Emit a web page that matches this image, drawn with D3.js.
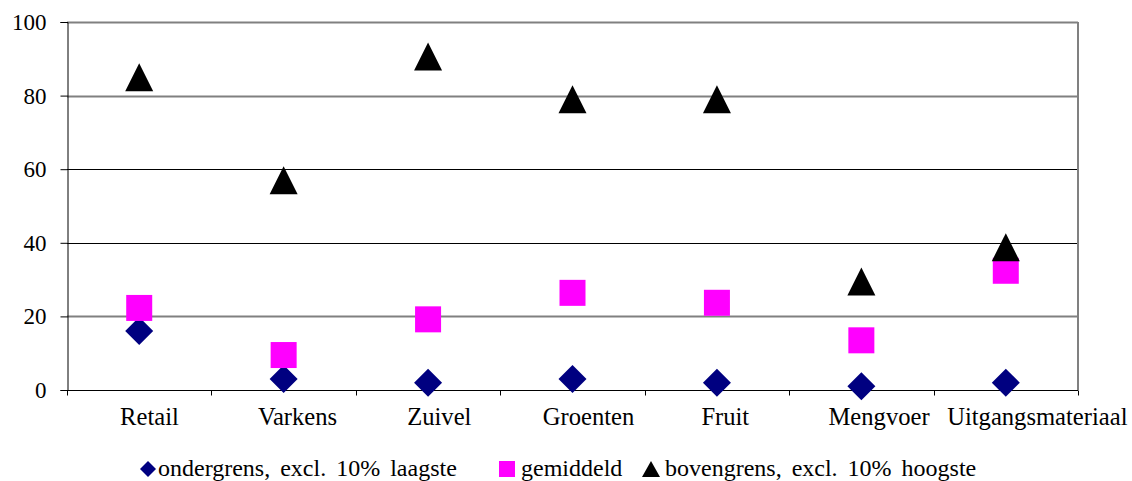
<!DOCTYPE html>
<html>
<head>
<meta charset="utf-8">
<script src="https://cdn.jsdelivr.net/npm/d3@7"></script>
<style>
  html, body { margin: 0; padding: 0; background: #fff; }
  svg { display: block; }
  svg text { font-family: "Liberation Serif", serif !important; fill: #000; }
</style>
</head>
<body>
<svg id="chart" width="1132" height="481"></svg>
<script>
// Categories and the three series per category
const categories = ["Retail", "Varkens", "Zuivel", "Groenten", "Fruit", "Mengvoer", "Uitgangsmateriaal"];
const ondergrens = [16, 3, 2, 3, 2, 1, 2];
const gemiddeld = [22.3, 9.5, 19.2, 26.4, 23.7, 13.5, 32.4];
const bovengrens = [85, 57, 90.6, 79, 79, 29.5, 38.8];
const yTicks = [0, 20, 40, 60, 80, 100];
const seriesNames = ["ondergrens, excl. 10% laagste", "gemiddeld", "bovengrens, excl. 10% hoogste"];

const svg = d3.select("#chart");
const plot = { left: 67, right: 1078, top: 22, bottom: 390 };

const x = d3.scaleBand().domain(categories).range([plot.left, plot.right]).padding(0);
const y = d3.scaleLinear().domain([0, 100]).range([plot.bottom, plot.top]);

// Horizontal gridlines
svg.append("g")
  .selectAll("line")
  .data(yTicks.filter(d => d > 0))
  .join("line")
  .attr("x1", plot.left).attr("x2", plot.right)
  .attr("y1", d => Math.round(y(d)) + 0.5).attr("y2", d => Math.round(y(d)) + 0.5)
  .attr("stroke", d => (d === 60 || d === 40) ? "#000" : "#808080")
  .attr("stroke-width", d => (d === 60 || d === 40) ? 1 : 2);

// Right border of plot area
svg.append("line")
  .attr("x1", plot.right).attr("x2", plot.right)
  .attr("y1", plot.top).attr("y2", plot.bottom)
  .attr("stroke", "#808080").attr("stroke-width", 2);

// Y axis
const yAxis = d3.axisLeft(y).tickValues(yTicks).tickSize(7).tickPadding(14);
const gy = svg.append("g").attr("transform", `translate(${plot.left + 0.5},0)`).call(yAxis);
gy.attr("font-family", null);
gy.select(".domain").attr("stroke", "#000");
gy.selectAll(".tick line").attr("stroke", "#000");
gy.selectAll(".tick text")
  .style("font-size", "23px").attr("fill", "#000").attr("dy", "0.33em");

// X axis line with ticks on category boundaries
const gx = svg.append("g").attr("transform", `translate(0,${plot.bottom + 0.5})`);
gx.append("line").attr("x1", plot.left).attr("x2", plot.right).attr("stroke", "#000");
const bounds = d3.range(categories.length + 1).map(i => plot.left + i * x.step());
gx.selectAll("line.tk").data(bounds).join("line").attr("class", "tk")
  .attr("x1", d => Math.round(d) + 0.5).attr("x2", d => Math.round(d) + 0.5)
  .attr("y1", 0).attr("y2", 5).attr("stroke", "#000");
// Category labels: start a little left of the category centre
gx.selectAll("text").data(categories).join("text")
  .attr("y", 34.5)
  .attr("text-anchor", "start")
  .style("font-size", "24.6px")
  .text(d => d)
  .attr("x", function (d) {
    return x(d) + x.bandwidth() / 2 - 0.325 * this.getComputedTextLength();
  });

// Marker shapes
const diamond = s => `M0,${-s}L${s},0L0,${s}L${-s},0Z`;
const triangle = (w, h) => `M0,${-h / 2}L${w / 2},${h / 2}L${-w / 2},${h / 2}Z`;

const cx = c => x(c) + x.bandwidth() / 2;

// ondergrens: navy diamonds
svg.append("g").selectAll("path").data(categories).join("path")
  .attr("transform", (c, i) => `translate(${cx(c)},${y(ondergrens[i])})`)
  .attr("d", diamond(14)).attr("fill", "#000080");

// gemiddeld: magenta squares
svg.append("g").selectAll("rect").data(categories).join("rect")
  .attr("x", c => cx(c) - 13).attr("y", (c, i) => y(gemiddeld[i]) - 13)
  .attr("width", 26).attr("height", 26).attr("fill", "#ff00ff");

// bovengrens: black triangles
svg.append("g").selectAll("path").data(categories).join("path")
  .attr("transform", (c, i) => `translate(${cx(c)},${y(bovengrens[i])})`)
  .attr("d", triangle(28, 28)).attr("fill", "#000");

// Legend
const legend = svg.append("g");
const legendItems = [
  { mark: "diamond", mx: 148, tx: 158 },
  { mark: "square", mx: 507, tx: 521 },
  { mark: "triangle", mx: 651, tx: 665 }
];
const ly = 469;
legendItems.forEach((it, i) => {
  if (it.mark === "diamond") {
    legend.append("path").attr("transform", `translate(${it.mx},${ly})`)
      .attr("d", diamond(8)).attr("fill", "#000080");
  } else if (it.mark === "square") {
    legend.append("rect").attr("x", it.mx - 8).attr("y", ly - 8)
      .attr("width", 16).attr("height", 16).attr("fill", "#ff00ff");
  } else {
    legend.append("path").attr("transform", `translate(${it.mx},${ly})`)
      .attr("d", triangle(18, 16)).attr("fill", "#000");
  }
  legend.append("text").attr("x", it.tx).attr("y", ly + 7)
    .style("font-size", "24px").style("word-spacing", "4px").text(seriesNames[i]);
});
</script>
</body>
</html>
